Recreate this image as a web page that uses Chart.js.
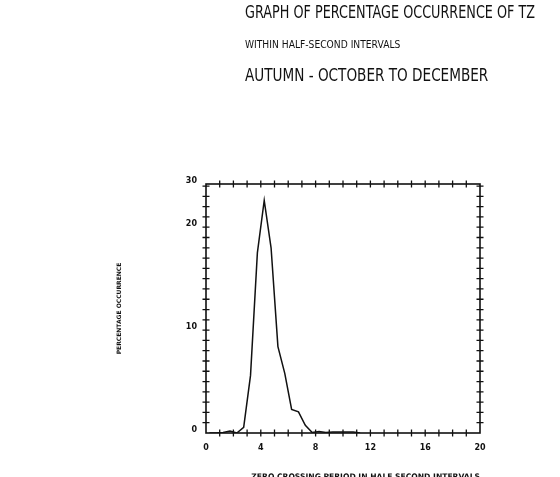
<!DOCTYPE html>
<html>
<head>
<meta charset="utf-8">
<script src="https://cdn.jsdelivr.net/npm/chart.js@4.4.0/dist/chart.umd.min.js"></script>
<style>
body { margin: 0; background: #fff; }
#wrap { position: relative; width: 560px; height: 477px; overflow: hidden; }
#graph_tz { position: absolute; left: 0; top: 0; }
.t { position: absolute; left: 245px; font-family: 'DejaVu Sans'; color: #111; white-space: nowrap; line-height: 1; transform-origin: 0 0; }
</style>
</head>
<body>
<div id="wrap">
<canvas id="graph_tz" width="560" height="477"></canvas>
<div class="t" data-w="290" style="top:4px;font-size:17px">GRAPH OF PERCENTAGE OCCURRENCE OF TZ</div>
<div class="t" data-w="155" style="top:39px;font-size:11px">WITHIN HALF-SECOND INTERVALS</div>
<div class="t" data-w="243" style="top:67px;font-size:17px">AUTUMN - OCTOBER TO DECEMBER</div>
</div>
<script>
// zero crossing period (half-second intervals), centre of each bin
const periods = [0.25, 0.75, 1.25, 1.75, 2.25, 2.75, 3.25, 3.75, 4.25, 4.75, 5.25, 5.75,
                 6.25, 6.75, 7.25, 7.75, 8.25, 8.75, 9.25, 9.75, 10.25, 10.75, 11.25];
// percentage occurrence
const percent = [0, 0, 0.05, 0.2, 0, 0.55, 5.6, 17.5, 22.6, 18.0, 8.4, 5.8,
                 2.3, 2.05, 0.75, 0.05, 0.15, 0.05, 0.1, 0.1, 0.1, 0.1, 0];
// tick labels as printed on the plot (top of the frame is labelled 30)
const yTickValues = [0, 10, 20, 24.2];
const yTickLabels = ['0', '10', '20', '30'];
const xTickLabels = ['0', '4', '8', '12', '16', '20'];

// squeeze the title lines to the printed widths
document.querySelectorAll('.t').forEach(el => {
    const w = el.offsetWidth;
    el.style.transform = 'scaleX(' + (el.dataset.w / w) + ')';
});

// frame with the little crossing ticks on all four sides
const frameTicks = {
    id: 'frameTicks',
    afterDraw(chart) {
        const ctx = chart.ctx;
        const a = chart.chartArea;
        const x = chart.scales.x, y = chart.scales.y;
        ctx.save();
        ctx.strokeStyle = '#111';
        ctx.lineWidth = 1.6;
        ctx.strokeRect(a.left, a.top, a.right - a.left, a.bottom - a.top);
        ctx.lineWidth = 1.3;
        ctx.beginPath();
        for (let v = 1; v < x.max; v++) {
            const px = x.getPixelForValue(v);
            ctx.moveTo(px, a.bottom - 3.5); ctx.lineTo(px, a.bottom + 3.5);
            ctx.moveTo(px, a.top - 3.5); ctx.lineTo(px, a.top + 3.5);
        }
        for (let v = 1; v < y.max; v++) {
            const py = y.getPixelForValue(v);
            ctx.moveTo(a.left - 3.5, py); ctx.lineTo(a.left + 3.5, py);
            ctx.moveTo(a.right - 3.5, py); ctx.lineTo(a.right + 3.5, py);
        }
        ctx.stroke();
        ctx.restore();
    }
};

const ctx = document.getElementById('graph_tz');
const chart = new Chart(ctx, {
    type: 'line',
    data: {
        datasets: [{
            label: 'TZ',
            data: periods.map((p, i) => ({ x: p, y: percent[i] })),
            borderColor: '#111',
            borderWidth: 1.5,
            pointRadius: 0,
            tension: 0,
            fill: false
        }]
    },
    options: {
        responsive: false,
        animation: false,
        layout: { padding: { left: 110, right: 80, top: 184, bottom: 0 } },
        plugins: {
            legend: { display: false },
            tooltip: { enabled: false }
        },
        scales: {
            x: {
                type: 'linear',
                min: 0,
                max: 20,
                afterBuildTicks: s => { s.ticks = xTickLabels.map(t => ({ value: Number(t) })); },
                afterFit: s => { s.height = 44; },
                grid: { display: false, drawTicks: false },
                border: { display: false },
                ticks: {
                    color: '#111',
                    padding: 10,
                    maxRotation: 0,
                    font: { family: 'DejaVu Sans', size: 8, weight: 'bold' },
                    callback: (v, i) => xTickLabels[i]
                },
                title: {
                    display: true,
                    align: 'end',
                    text: 'ZERO CROSSING PERIOD IN HALF SECOND INTERVALS',
                    color: '#111',
                    font: { family: 'DejaVu Sans', size: 7.6, weight: 'bold' },
                    padding: { top: 0, bottom: -5 }
                }
            },
            y: {
                min: 0,
                max: yTickValues[yTickValues.length - 1],
                afterBuildTicks: s => { s.ticks = yTickValues.map(v => ({ value: v })); },
                afterFit: s => { s.width = 96; },
                grid: { display: false, drawTicks: false },
                border: { display: false },
                ticks: {
                    color: '#111',
                    padding: 9,
                    labelOffset: -3,
                    font: { family: 'DejaVu Sans', size: 8, weight: 'bold' },
                    callback: (v, i) => yTickLabels[i]
                },
                title: {
                    display: true,
                    text: 'PERCENTAGE OCCURRENCE',
                    color: '#111',
                    font: { family: 'DejaVu Sans', size: 6, weight: 'bold' },
                    padding: { top: 6, bottom: 0 }
                }
            }
        }
    },
    plugins: [frameTicks]
});
</script>
</body>
</html>
